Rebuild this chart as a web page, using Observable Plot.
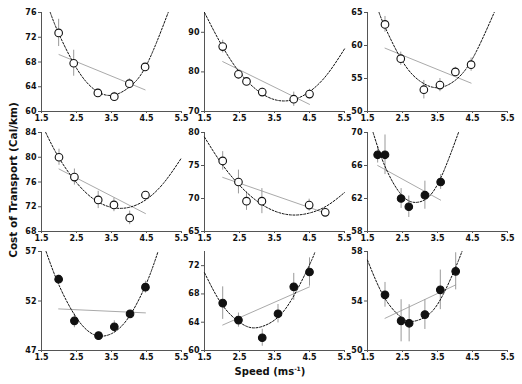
<!DOCTYPE html>
<html>
<head>
<meta charset="utf-8">
<script src="https://cdn.jsdelivr.net/npm/d3@7"></script>
<script src="https://cdn.jsdelivr.net/npm/@observablehq/plot@0.6"></script>
<style>
  body { margin: 0; background: #fff; }
  #wrap { position: relative; width: 522px; height: 384px; overflow: hidden; background: #fff; font-family: "DejaVu Sans", sans-serif; }
  #wrap svg { position: absolute; overflow: visible; }
  .ttl { position: absolute; font-weight: bold; font-size: 10px; color: #111; white-space: nowrap; }
</style>
</head>
<body>
<div id="wrap"></div>
<script>
// ---- Shared axis data ----
const xTicks = [1.5, 2.5, 3.5, 4.5, 5.5];
const yTitle = "Cost of Transport (Cal/km)";
const xTitle = "Speed (ms";

// ---- Panel 1 ----
const yDomain1 = [60, 76]; const yTicks1 = [60, 64, 68, 72, 76];
const speed1 = [1.99, 2.42, 3.11, 3.58, 4.01, 4.46];
const cost1 = [72.7, 67.8, 63.0, 62.4, 64.5, 67.2];
const err1 = [2.2, 2.1, 0.6, 0.7, 0.8, 0.5];
const quadX1 = [1.75, 2.0, 2.5, 3.0, 3.5, 4.0, 4.5, 5.12];
const quadY1 = [76, 72.5, 67.0, 63.6, 62.6, 63.9, 67.5, 76];
const linX1 = [2.0, 4.46]; const linY1 = [69.2, 63.5];

// ---- Panel 2 ----
const yDomain2 = [70, 95]; const yTicks2 = [70, 80, 90];
const speed2 = [2.02, 2.47, 2.70, 3.15, 4.05, 4.50];
const cost2 = [86.4, 79.4, 77.6, 74.9, 73.1, 74.4];
const err2 = [1.6, 1.0, 0.5, 1.0, 1.8, 1.2];
const quadX2 = [1.5, 2.0, 2.5, 3.0, 3.5, 4.0, 4.5, 5.0, 5.5];
const quadY2 = [95.0, 86.6, 79.9, 75.4, 73.0, 72.9, 75.0, 79.3, 85.8];
const linX2 = [2.02, 4.5]; const linY2 = [82.6, 71.8];

// ---- Panel 3 ----
const yDomain3 = [50, 65]; const yTicks3 = [50, 55, 60, 65];
const speed3 = [2.0, 2.45, 3.11, 3.57, 4.01, 4.46];
const cost3 = [63.2, 58.0, 53.3, 54.0, 56.0, 57.1];
const err3 = [1.2, 1.0, 1.4, 1.0, 0.7, 1.0];
const quadX3 = [1.83, 2.0, 2.5, 3.0, 3.5, 4.0, 4.5, 5.12];
const quadY3 = [65, 62.8, 57.6, 54.6, 53.6, 54.7, 58.0, 65];
const linX3 = [2.0, 4.46]; const linY3 = [59.6, 54.3];

// ---- Panel 4 ----
const yDomain4 = [68, 84]; const yTicks4 = [68, 72, 76, 80, 84];
const speed4 = [2.0, 2.44, 3.12, 3.57, 4.02, 4.47];
const cost4 = [80.0, 76.8, 73.1, 72.3, 70.2, 73.9];
const err4 = [1.3, 1.3, 1.4, 1.1, 1.1, 0.4];
const quadX4 = [1.62, 2.0, 2.5, 3.0, 3.5, 4.0, 4.5, 5.0, 5.5];
const quadY4 = [84, 79.9, 75.9, 73.2, 71.9, 71.9, 73.2, 75.9, 79.9];
const linX4 = [2.0, 4.47]; const linY4 = [78.1, 70.9];

// ---- Panel 5 ----
const yDomain5 = [65, 80]; const yTicks5 = [65, 70, 75, 80];
const speed5 = [2.02, 2.47, 2.70, 3.14, 4.49, 4.95];
const cost5 = [75.7, 72.5, 69.6, 69.6, 69.0, 67.9];
const err5 = [1.4, 1.8, 1.4, 1.9, 0.9, 0.4];
const quadX5 = [1.5, 2.0, 2.5, 3.0, 3.5, 4.0, 4.5, 5.0, 5.5];
const quadY5 = [79.3, 75.2, 72.0, 69.6, 68.1, 67.5, 67.8, 68.9, 70.9];
const linX5 = [2.02, 4.95]; const linY5 = [73.2, 67.8];

// ---- Panel 6 ----
const yDomain6 = [58, 70]; const yTicks6 = [58, 62, 66, 70];
const speed6 = [1.79, 2.0, 2.46, 2.68, 3.14, 3.59];
const cost6 = [67.3, 67.3, 62.0, 61.0, 62.4, 64.0];
const err6 = [1.0, 2.4, 1.2, 1.3, 1.7, 0.9];
const quadX6 = [1.66, 2.0, 2.5, 3.0, 3.5, 4.1];
const quadY6 = [70, 65.9, 62.3, 61.6, 63.7, 70];
const linX6 = [1.79, 3.59]; const linY6 = [66.0, 61.8];

// ---- Panel 7 ----
const yDomain7 = [47, 57]; const yTicks7 = [47, 52, 57];
const speed7 = [1.99, 2.44, 3.13, 3.58, 4.03, 4.47];
const cost7 = [54.2, 50.0, 48.5, 49.4, 50.7, 53.4];
const err7 = [0.4, 0.7, 0.3, 0.6, 0.3, 0.6];
const quadX7 = [1.63, 2.0, 2.5, 3.0, 3.5, 4.0, 4.5, 4.83];
const quadY7 = [57, 53.6, 50.3, 48.6, 48.7, 50.4, 53.8, 57];
const linX7 = [1.99, 4.47]; const linY7 = [51.2, 50.8];

// ---- Panel 8 ----
const yDomain8 = [60, 74]; const yTicks8 = [60, 64, 68, 72];
const speed8 = [2.02, 2.47, 3.15, 3.60, 4.05, 4.50];
const cost8 = [66.7, 64.3, 61.8, 65.2, 69.0, 71.1];
const err8 = [2.3, 1.0, 1.2, 1.3, 1.9, 2.0];
const quadX8 = [1.5, 2.0, 2.5, 2.95, 3.5, 4.0, 4.5, 4.66];
const quadY8 = [71.0, 66.5, 64.0, 63.2, 64.3, 67.3, 72.1, 74];
const linX8 = [2.02, 4.5]; const linY8 = [63.6, 69.0];

// ---- Panel 9 ----
const yDomain9 = [50, 58]; const yTicks9 = [50, 54, 58];
const speed9 = [2.0, 2.46, 2.69, 3.14, 3.58, 4.02];
const cost9 = [54.5, 52.4, 52.2, 52.9, 54.9, 56.4];
const err9 = [1.0, 1.7, 1.5, 1.2, 1.6, 1.5];
const quadX9 = [1.5, 2.0, 2.5, 2.8, 3.2, 3.6, 4.0, 4.2];
const quadY9 = [57.3, 54.2, 52.6, 52.35, 52.8, 54.2, 56.6, 58.0];
const linX9 = [2.0, 4.02]; const linY9 = [52.6, 55.3];

const panels = [
  {yd: yDomain1, yt: yTicks1, sx: speed1, sy: cost1, e: err1, qx: quadX1, qy: quadY1, lx: linX1, ly: linY1, filled: false},
  {yd: yDomain2, yt: yTicks2, sx: speed2, sy: cost2, e: err2, qx: quadX2, qy: quadY2, lx: linX2, ly: linY2, filled: false},
  {yd: yDomain3, yt: yTicks3, sx: speed3, sy: cost3, e: err3, qx: quadX3, qy: quadY3, lx: linX3, ly: linY3, filled: false},
  {yd: yDomain4, yt: yTicks4, sx: speed4, sy: cost4, e: err4, qx: quadX4, qy: quadY4, lx: linX4, ly: linY4, filled: false},
  {yd: yDomain5, yt: yTicks5, sx: speed5, sy: cost5, e: err5, qx: quadX5, qy: quadY5, lx: linX5, ly: linY5, filled: false},
  {yd: yDomain6, yt: yTicks6, sx: speed6, sy: cost6, e: err6, qx: quadX6, qy: quadY6, lx: linX6, ly: linY6, filled: true},
  {yd: yDomain7, yt: yTicks7, sx: speed7, sy: cost7, e: err7, qx: quadX7, qy: quadY7, lx: linX7, ly: linY7, filled: true},
  {yd: yDomain8, yt: yTicks8, sx: speed8, sy: cost8, e: err8, qx: quadX8, qy: quadY8, lx: linX8, ly: linY8, filled: true},
  {yd: yDomain9, yt: yTicks9, sx: speed9, sy: cost9, e: err9, qx: quadX9, qy: quadY9, lx: linX9, ly: linY9, filled: true}
];

const colLefts = [40.5, 203.7, 366.7];
const rowTops = [12, 132, 251];
const ML = 30, MR = 15, MT = 8, MB = 18, FW = 140, FH = 99;
const wrap = document.getElementById("wrap");

panels.forEach((p, i) => {
  const pts = p.sx.map((x, j) => ({x, y: p.sy[j], lo: p.sy[j] - p.e[j], hi: p.sy[j] + p.e[j]}));
  const quad = p.qx.map((x, j) => ({x, y: p.qy[j]}));
  const lin = p.lx.map((x, j) => ({x, y: p.ly[j]}));
  const chart = Plot.plot({
    width: FW + ML + MR, height: FH + MT + MB,
    marginLeft: ML, marginRight: MR, marginTop: MT, marginBottom: MB,
    style: {fontFamily: "DejaVu Sans, sans-serif", fontSize: "8px", fontWeight: "bold", color: "#111", background: "transparent"},
    x: {domain: [1.5, 5.5]},
    y: {domain: p.yd},
    marks: [
      Plot.axisX({ticks: xTicks, tickFormat: d3.format(".1f"), tickSize: 2, tickPadding: 2, stroke: "#555", label: null}),
      Plot.axisY({ticks: p.yt, tickSize: 3, tickPadding: 2, stroke: "#555", label: null}),
      Plot.ruleX([1.5], {stroke: "#555"}),
      Plot.ruleY([p.yd[0]], {stroke: "#555"}),
      Plot.line(lin, {x: "x", y: "y", stroke: "#aaa", strokeWidth: 1}),
      Plot.ruleX(pts, {x: "x", y1: "lo", y2: "hi", stroke: "#999", strokeWidth: 1}),
      Plot.line(quad, {x: "x", y: "y", curve: "natural", stroke: "#111", strokeWidth: 1, strokeDasharray: "2,1.6"}),
      Plot.dot(pts, {x: "x", y: "y", r: 3.8, stroke: "#111", strokeWidth: 1.1, fill: p.filled ? "#111" : "#fff"})
    ]
  });
  const col = i % 3, row = Math.floor(i / 3);
  chart.style.left = (colLefts[col] - ML) + "px";
  chart.style.top = (rowTops[row] - MT) + "px";
  wrap.appendChild(chart);
});

const yt = document.createElement("div");
yt.className = "ttl";
yt.textContent = yTitle;
yt.style.left = "13px"; yt.style.top = "180px";
yt.style.fontSize = "10.5px";
yt.style.transform = "translate(-50%, -50%) rotate(-90deg)";
wrap.appendChild(yt);

const xt = document.createElement("div");
xt.className = "ttl";
xt.innerHTML = xTitle + "<sup style='font-size:6px'>-1</sup>)";
xt.style.left = "270px"; xt.style.top = "371px";
xt.style.transform = "translate(-50%, -50%)";
wrap.appendChild(xt);
</script>
</body>
</html>
